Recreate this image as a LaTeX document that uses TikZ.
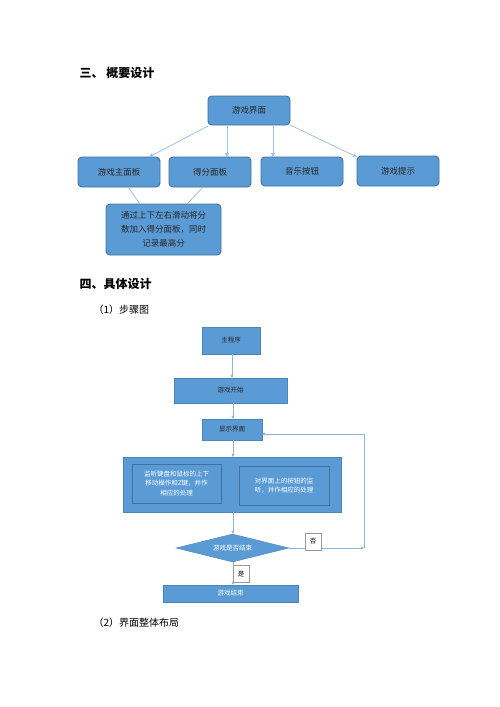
\documentclass[tikz,border=0pt]{standalone}
\usepackage{fontspec}
\setmainfont{Noto Sans CJK SC}
\usetikzlibrary{shapes.geometric,arrows.meta}
\definecolor{boxblue}{HTML}{5B9BD5}
\definecolor{boxline}{HTML}{41719C}
\definecolor{arrowblue}{HTML}{9DC3E6}
\definecolor{flowline}{HTML}{8FB4DC}
\definecolor{darktext}{HTML}{262626}
\tikzset{
  topbox/.style={draw=boxline, line width=0.9pt, fill=boxblue, rounded corners=4pt, text=darktext, font=\fontsize{8.5}{11}\selectfont, inner sep=0pt, align=center},
  flowbox/.style={draw=boxblue!85!black, line width=0.4pt, fill=boxblue, inner sep=0pt, align=center, font=\fontsize{6.5}{9}\selectfont},
  innerbox/.style={draw=boxline, line width=0.6pt, inner sep=0pt, align=center, text=white, font=\fontsize{6.5}{9.5}\selectfont},
  toparrow/.style={draw=arrowblue, line width=0.8pt, -{Triangle[length=4pt,width=4pt]}},
  topline/.style={draw=arrowblue, line width=0.8pt},
  flowarrow/.style={draw=flowline, line width=0.6pt, -{Triangle[length=3pt,width=3pt]}},
  flowseg/.style={draw=flowline, line width=0.6pt},
  labelbox/.style={draw=gray!80, fill=white, line width=0.4pt, inner sep=0pt, minimum width=16pt, minimum height=17pt, font=\fontsize{6.5}{8}\selectfont},
  heading/.style={anchor=west, font=\fontsize{12}{14}\selectfont\bfseries},
  subheading/.style={anchor=west, font=\fontsize{10}{12}\selectfont}
}
\begin{document}
\begin{tikzpicture}[x=1pt,y=-1pt]
\useasboundingbox[fill=white] (0,0) rectangle (500,707);

% Section 3
\node[heading] (h3) at (76,73) {三、 概要设计};

\node[topbox, minimum width=82pt, minimum height=29pt] (ui) at (249,110.5) {游戏界面};
\node[topbox, minimum width=82pt, minimum height=30pt] (mainp) at (119,172) {游戏主面板};
\node[topbox, minimum width=82pt, minimum height=30pt] (score) at (210,172) {得分面板};
\node[topbox, minimum width=82pt, minimum height=29pt] (music) at (302,171.5) {音乐按钮};
\node[topbox, minimum width=82pt, minimum height=30pt] (hint) at (398,171) {游戏提示};
\node[topbox, minimum width=115pt, minimum height=51pt, font=\fontsize{8.5}{14}\selectfont] (desc) at (163.5,229.5) {通过上下左右滑动将分\\数加入得分面板，同时\\记录最高分};

\coordinate (a1s) at (208,126);
\coordinate (a1e) at (149,157);
\coordinate (a2s) at (227,126);
\coordinate (a2e) at (227,157);
\coordinate (a3s) at (273,126);
\coordinate (a3e) at (273,157);
\coordinate (a4s) at (290,125);
\coordinate (a4e) at (357,157);
\draw[toparrow] (a1s) -- (a1e);
\draw[toparrow] (a2s) -- (a2e);
\draw[toparrow] (a3s) -- (a3e);
\draw[toparrow] (a4s) -- (a4e);

\coordinate (l1s) at (140,204);
\coordinate (l1e) at (128,187);
\coordinate (l2s) at (187,204);
\coordinate (l2e) at (203,187);
\draw[topline] (l1s) -- (l1e);
\draw[topline] (l2s) -- (l2e);

% Section 4
\node[heading] (h4) at (76,284) {四、具体设计};
\node[subheading] (s1) at (90,310) {（1）步骤图};

\node[flowbox, text=darktext, minimum width=58pt, minimum height=27pt] (prog) at (231,340.5) {主程序};
\node[flowbox, text=darktext, minimum width=113pt, minimum height=25pt] (start) at (230.5,390.5) {游戏开始};
\node[flowbox, text=darktext, minimum width=60pt, minimum height=21pt] (show) at (232,429.5) {显示界面};
\node[flowbox, minimum width=218pt, minimum height=55pt] (big) at (232,484.5) {};
\node[innerbox, minimum width=89pt, minimum height=39pt] (in1) at (176.5,483.5) {监听键盘和鼠标的上下\\移动操作和Z键，并作\\相应的处理};
\node[innerbox, minimum width=90pt, minimum height=39pt] (in2) at (284,485.5) {对界面上的按钮的监\\听，并作相应的处理};
\node[diamond, aspect=4, draw=boxblue!85!black, line width=0.4pt, fill=boxblue, inner sep=0pt, minimum width=113pt, minimum height=28pt, text=white, font=\fontsize{6.5}{8}\selectfont] (end?) at (232.5,548) {游戏是否结束};
\node[flowbox, text=white, minimum width=135pt, minimum height=17pt] (over) at (230.5,593.5) {游戏结束};

\draw[flowarrow] (prog.south -| 232,0) -- (start.north -| 232,0);
\draw[flowarrow] (start.south -| 233,0) -- (show.north -| 233,0);
\draw[flowarrow] (show.south -| 233,0) -- (big.north -| 233,0);
\draw[flowarrow] (big.south -| 233,0) -- (end?.north -| 233,0);
\draw[flowarrow] (end?.south -| 233,0) -- (over.north -| 233,0);

\coordinate (fbr) at (364,548);
\coordinate (ftr) at (364,434);
\draw[flowarrow] (end?.east) -- (fbr);
\draw[flowseg] (fbr) -- (ftr);
\draw[flowarrow] (ftr) -- (show.east |- ftr);

\node[labelbox] (no) at (313,541.5) {否};
\node[labelbox] (yes) at (241,574) {是};

\node[subheading] (s2) at (90,623) {（2）界面整体布局};
\end{tikzpicture}
\end{document}
